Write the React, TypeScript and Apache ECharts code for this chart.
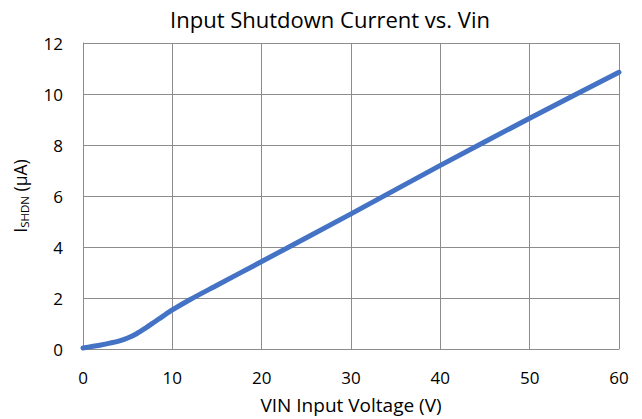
import React, { useEffect, useRef } from "react";
import * as echarts from "echarts";

const titleText = "Input Shutdown Current vs. Vin";
const xAxisTitle = "VIN Input Voltage (V)";
const vinValues = [0, 1, 2, 3, 4, 5, 6, 7, 8, 9, 10, 12, 15, 20, 30, 40, 50, 60];
const currentValues = [0.04, 0.1, 0.16, 0.23, 0.31, 0.43, 0.6, 0.82, 1.06, 1.3, 1.53, 1.94, 2.5, 3.43, 5.3, 7.2, 9.05, 10.85];

const FONT = "'Open Sans', 'Noto Sans', sans-serif";

export default function App() {
  const ref = useRef<HTMLDivElement>(null);
  useEffect(() => {
    if (!ref.current) return;
    const chart = echarts.init(ref.current, null, { renderer: "svg" });
    const data = vinValues.map((v, i) => [v, currentValues[i]]);
    chart.setOption({
      animation: false,
      backgroundColor: "#ffffff",
      title: {
        text: titleText,
        left: 325,
        top: 3,
        textAlign: "center",
        textStyle: { fontFamily: FONT, fontSize: 22, fontWeight: "normal", color: "#000" },
      },
      grid: { left: 83, right: 23, top: 43, bottom: 70 },
      xAxis: {
        type: "value",
        min: 0,
        max: 60,
        interval: 10,
        name: xAxisTitle,
        nameLocation: "middle",
        nameGap: 46,
        nameTextStyle: { fontFamily: FONT, fontSize: 19, color: "#000" },
        axisLine: { show: true, lineStyle: { color: "#8c8c8c", width: 1 } },
        axisTick: { show: false },
        axisLabel: { fontFamily: FONT, fontSize: 17, color: "#000", margin: 20 },
        splitLine: { show: true, lineStyle: { color: "#8c8c8c", width: 1 } },
      },
      yAxis: {
        type: "value",
        min: 0,
        max: 12,
        interval: 2,
        name: "{i|I}{sub|SHDN}{i| (µA)}",
        nameLocation: "middle",
        nameGap: 52,
        nameRotate: 90,
        nameTextStyle: {
          fontFamily: FONT,
          color: "#000",
          rich: {
            i: { fontFamily: FONT, fontSize: 17.5, color: "#000", lineHeight: 22 },
            sub: { fontFamily: FONT, fontSize: 11.5, color: "#000", lineHeight: 22, padding: [9, 0, 0, 0] },
          },
        },
        axisLine: { show: true, lineStyle: { color: "#8c8c8c", width: 1 } },
        axisTick: { show: false },
        axisLabel: { fontFamily: FONT, fontSize: 17, color: "#000", margin: 20 },
        splitLine: { show: true, lineStyle: { color: "#8c8c8c", width: 1 } },
      },
      series: [
        {
          type: "line",
          data,
          smooth: 0.3,
          showSymbol: false,
          lineStyle: { color: "#4472C4", width: 5, cap: "round" },
          itemStyle: { color: "#4472C4" },
        },
      ],
    });
    return () => chart.dispose();
  }, []);
  return <div ref={ref} style={{ width: 642, height: 419, position: "absolute", left: 0, top: 0 }} />;
}
